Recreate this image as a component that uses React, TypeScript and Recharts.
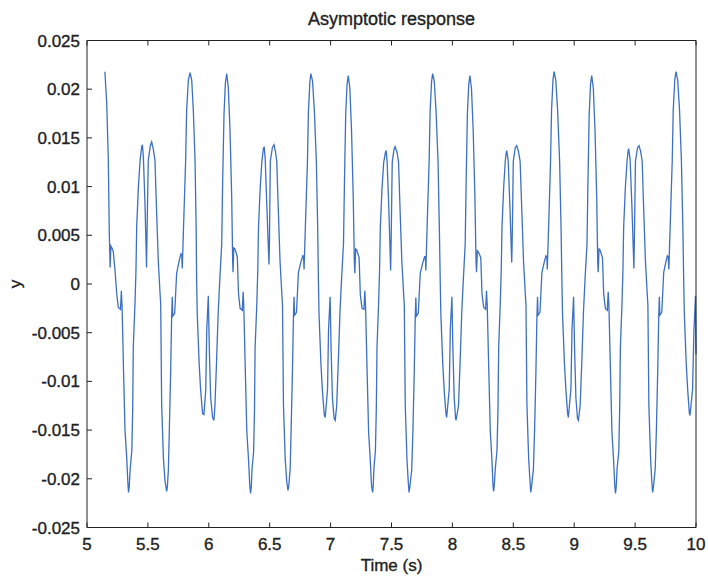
import { Label, Line, LineChart, XAxis, YAxis } from "recharts";

// one array per cycle of the signal, [time (s), y]
const cycle5: [number, number][] = [
  [5.147, 0.0218], [5.162, 0.0185], [5.175, 0.0127], [5.183, 0.0052], [5.19, 0.0017], [5.196, 0.0039],
  [5.205, 0.0037], [5.216, 0.0033], [5.232, 0.0011], [5.244, -0.001], [5.257, -0.0024], [5.275, -0.0026],
  [5.282, -0.0007], [5.288, -0.0023], [5.3, -0.0089], [5.312, -0.015], [5.326, -0.0178], [5.336, -0.0205],
  [5.341, -0.0214], [5.347, -0.0208], [5.354, -0.0191], [5.368, -0.0171], [5.375, -0.013], [5.38, -0.0065],
  [5.394, -0.002], [5.402, 0.0014], [5.408, 0.0059], [5.422, 0.01], [5.436, 0.0127], [5.449, 0.0141],
  [5.455, 0.0143], [5.463, 0.013], [5.476, 0.0083], [5.489, 0.0017], [5.492, 0.0045], [5.503, 0.0127],
  [5.52, 0.0142], [5.531, 0.0146], [5.545, 0.0138], [5.558, 0.0127], [5.571, 0.0076], [5.585, 0.0024],
  [5.6, -0.001], [5.605, -0.002], [5.613, -0.0123], [5.627, -0.0178], [5.64, -0.0202], [5.654, -0.0213],
  [5.66, -0.0208], [5.668, -0.0191], [5.676, -0.015], [5.687, -0.0089], [5.695, -0.0034], [5.7, -0.0013],
  [5.704, -0.0033], [5.72, -0.003], [5.736, 0.0011], [5.757, 0.0024], [5.772, 0.0031], [5.778, 0.003],
  [5.782, 0.0016], [5.797, 0.0076], [5.81, 0.0127], [5.818, 0.0178], [5.832, 0.0209], [5.846, 0.0217],
  [5.86, 0.0209], [5.873, 0.0178], [5.887, 0.0127], [5.896, 0.0059], [5.9, 0.0004], [5.905, -0.003],
  [5.921, -0.0082], [5.933, -0.0109], [5.949, -0.0133], [5.96, -0.0134], [5.975, -0.0109], [5.983, -0.0048],
  [5.996, -0.0012], [6.004, -0.0065], [6.015, -0.0116], [6.031, -0.0137], [6.042, -0.014], [6.05, -0.0126],
  [6.063, -0.0082], [6.077, -0.003], [6.09, 0.0004],
];

const cycle6: [number, number][] = [
  [6.106, 0.0041], [6.114, 0.0107], [6.125, 0.0175], [6.136, 0.0206], [6.147, 0.0216], [6.16, 0.0202],
  [6.174, 0.0158], [6.188, 0.0089], [6.196, 0.0024], [6.199, 0.0012], [6.205, 0.0037], [6.215, 0.0036],
  [6.234, 0.0028], [6.244, -0.001], [6.257, -0.0025], [6.275, -0.0027], [6.282, -0.0008], [6.287, -0.0022],
  [6.3, -0.009], [6.312, -0.0151], [6.326, -0.018], [6.336, -0.0206], [6.343, -0.0215], [6.349, -0.0208],
  [6.355, -0.019], [6.368, -0.0172], [6.375, -0.0131], [6.38, -0.0066], [6.394, -0.0021], [6.402, 0.0013],
  [6.408, 0.0058], [6.422, 0.0099], [6.436, 0.0126], [6.448, 0.0139], [6.455, 0.0141], [6.463, 0.0129],
  [6.476, 0.0082], [6.494, 0.002], [6.498, 0.0044], [6.505, 0.0126], [6.522, 0.014], [6.536, 0.0143],
  [6.547, 0.0136], [6.558, 0.0126], [6.571, 0.0075], [6.585, 0.0023], [6.6, -0.0011], [6.605, -0.0021],
  [6.613, -0.0124], [6.627, -0.0179], [6.64, -0.0203], [6.65, -0.0212], [6.657, -0.0207], [6.668, -0.019],
  [6.676, -0.0149], [6.687, -0.0088], [6.695, -0.0033], [6.7, -0.0013], [6.704, -0.0032], [6.72, -0.0029],
  [6.736, 0.0012], [6.757, 0.0023], [6.772, 0.0029], [6.778, 0.0028], [6.782, 0.0015], [6.797, 0.0075],
  [6.81, 0.0126], [6.818, 0.0177], [6.83, 0.0208], [6.838, 0.0216], [6.852, 0.0208], [6.867, 0.0177],
  [6.883, 0.0126], [6.894, 0.0058], [6.9, 0.0003], [6.905, -0.0031], [6.921, -0.0083], [6.933, -0.011],
  [6.948, -0.0134], [6.956, -0.0137], [6.975, -0.0108], [6.983, -0.0047], [6.996, -0.0013], [7.004, -0.0066],
  [7.015, -0.0117], [7.029, -0.0138], [7.038, -0.014], [7.05, -0.0125], [7.063, -0.0081], [7.077, -0.0029],
  [7.09, 0.0005],
];

const cycle7: [number, number][] = [
  [7.106, 0.0042], [7.114, 0.0106], [7.124, 0.0174], [7.135, 0.0205], [7.145, 0.0214], [7.158, 0.0201],
  [7.172, 0.0157], [7.186, 0.0088], [7.195, 0.0023], [7.199, 0.0011], [7.206, 0.0036], [7.214, 0.0035],
  [7.234, 0.0027], [7.244, -0.0011], [7.258, -0.0025], [7.274, -0.0026], [7.281, -0.0007], [7.287, -0.0023],
  [7.3, -0.0091], [7.312, -0.0152], [7.325, -0.0179], [7.336, -0.0207], [7.345, -0.0214], [7.35, -0.0207],
  [7.356, -0.0189], [7.368, -0.0171], [7.375, -0.013], [7.381, -0.0065], [7.394, -0.002], [7.402, 0.0014],
  [7.408, 0.0057], [7.422, 0.0098], [7.436, 0.0125], [7.45, 0.0135], [7.456, 0.0137], [7.464, 0.0126],
  [7.478, 0.0078], [7.493, 0.0014], [7.497, 0.0043], [7.506, 0.0125], [7.52, 0.0138], [7.529, 0.0141],
  [7.546, 0.0135], [7.558, 0.0125], [7.571, 0.0074], [7.585, 0.0023], [7.6, -0.0011], [7.605, -0.0022],
  [7.613, -0.0125], [7.627, -0.018], [7.638, -0.0204], [7.644, -0.0214], [7.651, -0.0208], [7.666, -0.0191],
  [7.676, -0.015], [7.687, -0.0089], [7.695, -0.0034], [7.7, -0.0014], [7.704, -0.0033], [7.72, -0.003],
  [7.736, 0.0011], [7.757, 0.0022], [7.772, 0.0028], [7.778, 0.0028], [7.782, 0.0014], [7.796, 0.0074],
  [7.809, 0.0126], [7.817, 0.0177], [7.829, 0.0208], [7.838, 0.0216], [7.851, 0.0208], [7.866, 0.0177],
  [7.882, 0.0126], [7.893, 0.0057], [7.9, 0.0003], [7.905, -0.003], [7.921, -0.0082], [7.933, -0.011],
  [7.947, -0.0133], [7.953, -0.0137], [7.974, -0.0108], [7.983, -0.0046], [7.996, -0.0013], [8.004, -0.0066],
  [8.015, -0.0117], [8.026, -0.0138], [8.03, -0.014], [8.05, -0.0125], [8.063, -0.0081], [8.077, -0.0029],
  [8.09, 0.0005],
];

const cycle8: [number, number][] = [
  [8.105, 0.0041], [8.113, 0.0106], [8.123, 0.0174], [8.134, 0.0205], [8.144, 0.0214], [8.157, 0.02],
  [8.171, 0.0156], [8.185, 0.0088], [8.194, 0.0023], [8.198, 0.0012], [8.205, 0.0034], [8.213, 0.0033],
  [8.233, 0.0027], [8.243, -0.001], [8.257, -0.0024], [8.273, -0.0026], [8.28, -0.0007], [8.286, -0.0022],
  [8.299, -0.009], [8.311, -0.0151], [8.324, -0.0179], [8.333, -0.0206], [8.338, -0.0213], [8.344, -0.0207],
  [8.352, -0.019], [8.366, -0.0171], [8.374, -0.013], [8.38, -0.0065], [8.393, -0.002], [8.401, 0.0014],
  [8.407, 0.0058], [8.421, 0.0099], [8.434, 0.0126], [8.442, 0.0135], [8.446, 0.0137], [8.458, 0.0127],
  [8.472, 0.008], [8.487, 0.0022], [8.491, 0.0045], [8.5, 0.0126], [8.516, 0.014], [8.528, 0.0142],
  [8.543, 0.0136], [8.556, 0.0126], [8.57, 0.0075], [8.584, 0.0023], [8.599, -0.0011], [8.604, -0.0021],
  [8.612, -0.0124], [8.626, -0.0179], [8.638, -0.0204], [8.643, -0.0214], [8.65, -0.0208], [8.665, -0.019],
  [8.675, -0.0149], [8.686, -0.0088], [8.694, -0.0033], [8.699, -0.0013], [8.703, -0.0032], [8.719, -0.0029],
  [8.735, 0.0012], [8.755, 0.0023], [8.768, 0.0029], [8.775, 0.0028], [8.779, 0.0015], [8.794, 0.0075],
  [8.806, 0.0127], [8.814, 0.0178], [8.826, 0.021], [8.835, 0.0218], [8.849, 0.0209], [8.864, 0.0178],
  [8.88, 0.0127], [8.892, 0.0058], [8.899, 0.0003], [8.904, -0.003], [8.92, -0.0082], [8.932, -0.0109],
  [8.946, -0.0133], [8.952, -0.0137], [8.973, -0.0108], [8.982, -0.0047], [8.995, -0.0013], [9.003, -0.0066],
  [9.014, -0.0117], [9.027, -0.0138], [9.034, -0.014], [9.049, -0.0125], [9.062, -0.0081], [9.076, -0.0029],
  [9.089, 0.0005],
];

const cycle9: [number, number][] = [
  [9.105, 0.0041], [9.113, 0.0106], [9.123, 0.0174], [9.134, 0.0205], [9.144, 0.0214], [9.157, 0.0201],
  [9.171, 0.0157], [9.185, 0.0088], [9.193, 0.0023], [9.197, 0.0012], [9.204, 0.0036], [9.212, 0.0035],
  [9.232, 0.0027], [9.242, -0.001], [9.256, -0.0025], [9.272, -0.0027], [9.279, -0.0008], [9.285, -0.0022],
  [9.298, -0.0091], [9.31, -0.0152], [9.323, -0.018], [9.333, -0.0207], [9.339, -0.0215], [9.345, -0.0208],
  [9.352, -0.019], [9.366, -0.0172], [9.373, -0.0131], [9.379, -0.0066], [9.392, -0.0021], [9.4, 0.0013],
  [9.406, 0.0058], [9.42, 0.0099], [9.434, 0.0126], [9.443, 0.0137], [9.447, 0.0139], [9.459, 0.0128],
  [9.474, 0.0079], [9.49, 0.0016], [9.494, 0.0044], [9.503, 0.0126], [9.52, 0.014], [9.532, 0.0142],
  [9.546, 0.0136], [9.558, 0.0126], [9.571, 0.0075], [9.585, 0.0023], [9.6, -0.0011], [9.605, -0.0021],
  [9.613, -0.0124], [9.627, -0.0179], [9.638, -0.0204], [9.644, -0.0214], [9.651, -0.0208], [9.665, -0.019],
  [9.675, -0.0149], [9.686, -0.0088], [9.694, -0.0033], [9.699, -0.0013], [9.703, -0.0032], [9.719, -0.0029],
  [9.735, 0.0012], [9.753, 0.0023], [9.765, 0.0029], [9.772, 0.0028], [9.777, 0.0015], [9.792, 0.0075],
  [9.805, 0.0127], [9.813, 0.0178], [9.826, 0.021], [9.836, 0.0218], [9.85, 0.0209], [9.865, 0.0178],
  [9.88, 0.0127], [9.892, 0.0058], [9.899, 0.0003], [9.904, -0.003], [9.92, -0.0082], [9.932, -0.0109],
  [9.945, -0.0132], [9.951, -0.0135], [9.972, -0.0108], [9.983, -0.0048], [9.996, -0.0012], [10.0, -0.0072],
];

const xTicks = [5, 5.5, 6, 6.5, 7, 7.5, 8, 8.5, 9, 9.5, 10];
const yTicks = [-0.025, -0.02, -0.015, -0.01, -0.005, 0, 0.005, 0.01, 0.015, 0.02, 0.025];

const data = [...cycle5, ...cycle6, ...cycle7, ...cycle8, ...cycle9].map(([t, y]) => ({ t, y }));

const ink = "#222";
const font = "'Liberation Sans', Arial, sans-serif";
const tickLen = 5;
// the printed labels are a little heavier than a plain regular weight
const textStyle = { fontFamily: font, fill: ink, stroke: ink, strokeWidth: 0.35 };

const BottomTick = ({ x, y, payload }: any) => (
  <g>
    <line x1={x} y1={y} x2={x} y2={y - tickLen} stroke={ink} />
    <text x={x} y={y + 22} textAnchor="middle" fontSize={17} {...textStyle}>
      {payload.value}
    </text>
  </g>
);

const LeftTick = ({ x, y, payload }: any) => (
  <g>
    <line x1={x} y1={y} x2={x + tickLen} y2={y} stroke={ink} />
    <text x={x - 7} y={y + 6} textAnchor="end" fontSize={17} {...textStyle}>
      {payload.value}
    </text>
  </g>
);

const TopTick = ({ x, y }: any) => <line x1={x} y1={y} x2={x} y2={y + tickLen} stroke={ink} />;
const RightTick = ({ x, y }: any) => <line x1={x} y1={y} x2={x - tickLen} y2={y} stroke={ink} />;

export default function App() {
  return (
    <div style={{ position: "absolute", left: 0, top: 0, background: "#fff" }}>
      <LineChart width={708} height={577} data={data} margin={{ top: 39.5, right: 11, bottom: 48.5, left: 86 }}>
        <XAxis
          xAxisId="bottom"
          dataKey="t"
          type="number"
          domain={[5, 10]}
          ticks={xTicks}
          interval={0}
          height={1}
          tickSize={0}
          tickMargin={0}
          tickLine={false}
          tick={BottomTick}
          axisLine={{ stroke: ink }}
        >
          <Label
            content={({ viewBox }: any) => (
              <text x={viewBox.x + viewBox.width / 2} y={viewBox.y + 43} textAnchor="middle" fontSize={17} {...textStyle}>
                Time (s)
              </text>
            )}
          />
        </XAxis>
        <XAxis
          xAxisId="top"
          orientation="top"
          dataKey="t"
          type="number"
          domain={[5, 10]}
          ticks={xTicks}
          interval={0}
          height={1}
          tickSize={0}
          tickMargin={0}
          tickLine={false}
          tick={TopTick}
          axisLine={{ stroke: ink }}
        >
          <Label
            content={({ viewBox }: any) => (
              <text x={viewBox.x + viewBox.width / 2} y={viewBox.y - 15} textAnchor="middle" fontSize={18} {...textStyle}>
                Asymptotic response
              </text>
            )}
          />
        </XAxis>
        <YAxis
          yAxisId="left"
          type="number"
          domain={[-0.025, 0.025]}
          ticks={yTicks}
          interval={0}
          width={1}
          tickSize={0}
          tickMargin={0}
          tickLine={false}
          tick={LeftTick}
          axisLine={{ stroke: ink }}
        >
          <Label
            content={({ viewBox }: any) => (
              <text
                x={21}
                y={viewBox.y + viewBox.height / 2}
                textAnchor="middle"
                fontSize={17}
                {...textStyle}
                transform={`rotate(-90 21 ${viewBox.y + viewBox.height / 2})`}
              >
                y
              </text>
            )}
          />
        </YAxis>
        <YAxis
          yAxisId="right"
          orientation="right"
          type="number"
          domain={[-0.025, 0.025]}
          ticks={yTicks}
          interval={0}
          width={1}
          tickSize={0}
          tickMargin={0}
          tickLine={false}
          tick={RightTick}
          axisLine={{ stroke: ink }}
        />
        <Line
          xAxisId="bottom"
          yAxisId="left"
          type="linear"
          dataKey="y"
          stroke="#3d70c2"
          strokeWidth={1.3}
          dot={false}
          isAnimationActive={false}
        />
      </LineChart>
    </div>
  );
}
